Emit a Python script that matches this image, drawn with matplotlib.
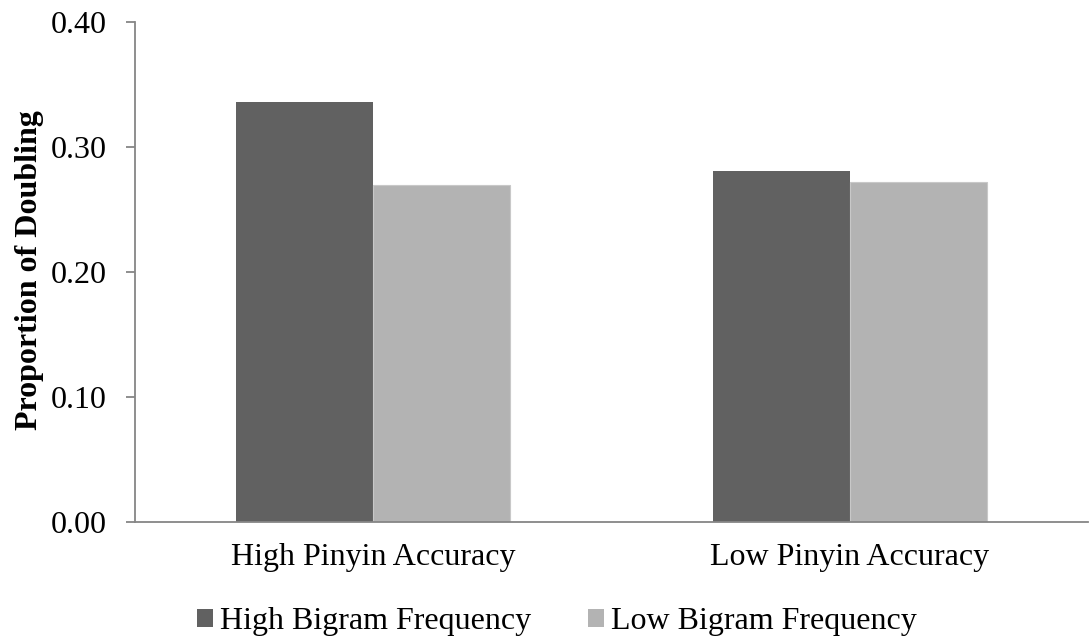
import matplotlib
matplotlib.use("Agg")
import matplotlib.pyplot as plt
from matplotlib.patches import Patch
import numpy as np

categories = ["High Pinyin Accuracy", "Low Pinyin Accuracy"]
series_names = ["High Bigram Frequency", "Low Bigram Frequency"]
high_bigram = [0.336, 0.281]
low_bigram = [0.270, 0.272]
yticks = [0.0, 0.1, 0.2, 0.3, 0.4]
ytick_labels = ["0.00", "0.10", "0.20", "0.30", "0.40"]
colors = ["#616161", "#b3b3b3"]

plt.rcParams['font.family'] = ['Liberation Serif', 'DejaVu Serif']

fig = plt.figure(figsize=(10.89, 6.43), dpi=100)
ax = fig.add_axes([135/1089, 1 - 522/643, (1088 - 135)/1089, 500/643])

x = np.arange(len(categories))
w = 0.287
ax.bar(x - w/2, high_bigram, width=w, color=colors[0], edgecolor="none")
ax.bar(x + w/2, low_bigram, width=w, color=colors[1], edgecolor="#c8c8c8", linewidth=0.8)

ax.set_xlim(-0.5, 1.5)
ax.set_ylim(0, 0.4)
ax.set_yticks(yticks)
ax.set_yticklabels(ytick_labels)
ax.set_xticks(x)
ax.set_xticklabels(categories)
ax.tick_params(axis='y', direction='out', length=6.5, width=1.3, color='#868686',
               labelsize=23, pad=13.7)
ax.tick_params(axis='x', length=0, labelsize=23, pad=15)
for s in ['top', 'right']:
    ax.spines[s].set_visible(False)
for s in ['left', 'bottom']:
    ax.spines[s].set_color('#868686')
    ax.spines[s].set_linewidth(1.3)

fig.text(30/1089, 1 - 270/643, "Proportion of Doubling", rotation=90,
         ha='center', va='center', fontsize=23, fontweight='bold')

handles = [Patch(facecolor=c, edgecolor='none') for c in colors]
fig.legend(handles, series_names, loc='center', bbox_to_anchor=(557/1089, 1 - 622/643),
           ncol=2, frameon=False, fontsize=23, handlelength=0.5, handleheight=0.5,
           handletextpad=0.22, columnspacing=1.8, borderaxespad=0, borderpad=0)

fig.savefig("out.png", dpi=100)
